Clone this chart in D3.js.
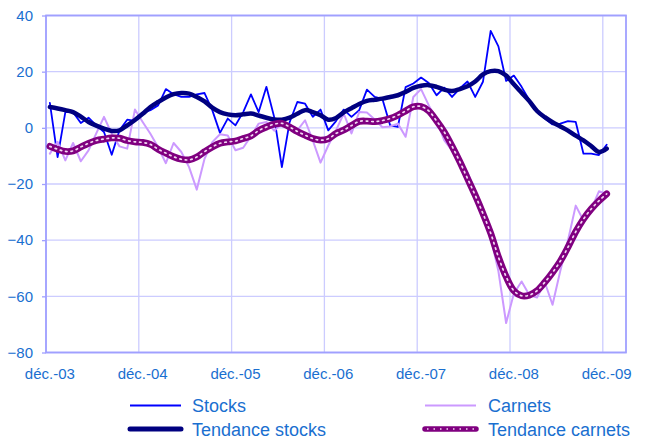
<!DOCTYPE html>
<html>
<head>
<meta charset="utf-8">
<script src="https://d3js.org/d3.v7.min.js"></script>
<style>
body { margin: 0; background: #fff; }
text { font-family: "Liberation Sans", Arial, sans-serif; }
</style>
</head>
<body>
<div id="chart"></div>
<script>
var width = 648;
var height = 441;

// tick labels (one every 12 months) and number of monthly slots on the axis
var tickLabels = ["déc.-03", "déc.-04", "déc.-05", "déc.-06", "déc.-07", "déc.-08", "déc.-09"];
var nSlots = 75;
var yTicks = [-80, -60, -40, -20, 0, 20, 40];

// monthly values, déc.-03 .. déc.-09
var stocks = [8.9, -10.4, 5.6, 5.6, 1.7, 3.6, 0.9, -1.5, -9.6, -0.9, 2.9, 2.5,
  5.3, 6.3, 8, 13.8, 12, 11, 11, 11.9, 12.4, 6.3, -1.8, 3.3,
  0.9, 5.6, 11.9, 5.6, 14.6, 3.9, -14, 2, 9.2, 8.6, 3.9, 6.5,
  -0.9, 2.4, 6.5, 3.9, 6.3, 13.6, 11, 10.3, 0.9, 0.3, 14.5, 15.8,
  17.9, 16, 11.6, 14.3, 11, 14, 16.5, 11, 16.4, 34.5, 29, 16.7,
  18.6, 14.6, 9.8, 5.6, 3.3, 1.2, 1.5, 2.4, 2.1, -9.2, -9.2, -9.7, -6];

var carnets = [-9.2, -5, -11.6, -5.4, -11.9, -8, -2, 3.9, -2.1, -6.6, -7.4, 6.5,
  2.1, -2.1, -6.9, -12.6, -5.4, -8.6, -14, -22, -11, -5.1, -2.3, -2.7,
  -8, -7.1, -3, 1.5, 2.1, -1, 1.5, -0.5, -0.9, 2.7, -4.5, -12.4,
  -6.3, -0.9, 5.1, -2, 5.6, 5.5, 3, 0.2, 0.5, 1.5, -3.2, 11,
  13.8, 8, 2.7, -4.5, -8, -11.5, -15.8, -22.5, -30, -39, -51, -69.5,
  -59, -54.7, -59.5, -60.4, -55, -63, -51, -40, -27.7, -33, -29, -22.6, -23.5];

var trendStocks = [7.4, 6.9, 6.3, 5.6, 4.0, 2.1, 0.8, -0.3, -1.1, -0.9, 0.9, 2.8,
  5.0, 7.4, 9.2, 10.8, 12.0, 12.4, 12.2, 11.0, 9.4, 7.2, 5.6, 4.8,
  4.5, 4.8, 5.1, 4.4, 3.6, 3.0, 2.9, 3.6, 5.0, 6.3, 5.6, 4.5,
  2.9, 3.5, 5.5, 7.0, 8.5, 9.6, 10.0, 10.4, 11.0, 11.6, 12.8, 14.2,
  15.0, 15.2, 14.6, 13.6, 13.1, 13.8, 14.8, 16.5, 19.0, 20.2, 20.2, 18.6,
  15.5, 12.5, 9.5, 6.0, 3.8, 2.0, 0.5, -1.0, -2.8, -4.5, -6.5, -8.6, -7.4];

var trendCarnets = [-6.6, -7.6, -8.4, -8.2, -6.8, -5.5, -4.5, -4.0, -3.6, -3.7, -4.5, -5.0,
  -5.2, -5.9, -7.6, -9.0, -10.3, -11.2, -11.4, -10.4, -8.5, -6.8, -5.5, -5.0,
  -4.7, -3.8, -2.9, -1.0, 0.3, 1.3, 1.6, 0.3, -1.3, -2.6, -3.8, -4.4,
  -3.9, -2.0, -0.8, 0.8, 2.3, 2.4, 2.2, 2.6, 3.3, 4.5, 6.0, 7.5,
  7.6, 6.0, 2.5, -1.5, -6.5, -12, -18, -24, -30.5, -37.5, -46, -53,
  -58, -59.8, -59.6, -58, -55, -51.5, -47.5, -42.5, -37, -32.5, -28.9, -26, -23.5];

var series = [
  {name: "Stocks", values: stocks, color: "#0000ff", w: 1.8},
  {name: "Carnets", values: carnets, color: "#cc99ff", w: 2},
  {name: "Tendance stocks", values: trendStocks, color: "#000080", w: 4.5},
  {name: "Tendance carnets", values: trendCarnets, color: "#800080", w: 6.8, dots: true}
];

var plot = {left: 46, right: 626, top: 15.5, bottom: 352.5};

var svg = d3.select("#chart").append("svg").attr("width", width).attr("height", height);

var x = d3.scaleLinear().domain([0, nSlots]).range([plot.left, plot.right]);
var y = d3.scaleLinear().domain([-80, 40]).range([plot.bottom, plot.top]);

// grid
svg.append("g").selectAll("line").data(yTicks).enter().append("line")
  .attr("x1", plot.left).attr("x2", plot.right)
  .attr("y1", function(d) { return y(d); }).attr("y2", function(d) { return y(d); })
  .attr("stroke", "#ccccff").attr("stroke-width", 1.3);

svg.append("g").selectAll("line").data(tickLabels).enter().append("line")
  .attr("x1", function(d, i) { return x(i * 12); }).attr("x2", function(d, i) { return x(i * 12); })
  .attr("y1", plot.top).attr("y2", plot.bottom)
  .attr("stroke", "#ccccff").attr("stroke-width", 1.3);

// plot border
svg.append("rect")
  .attr("x", plot.left).attr("y", plot.top)
  .attr("width", plot.right - plot.left).attr("height", plot.bottom - plot.top)
  .attr("fill", "none").attr("stroke", "#a0a0ff").attr("stroke-width", 1.8);

// y axis
var yAxis = d3.axisLeft(y).tickValues(yTicks).tickSize(4).tickPadding(9);
var gy = svg.append("g").attr("transform", "translate(" + plot.left + ",0)").call(yAxis);
gy.select(".domain").remove();
gy.selectAll("line").attr("stroke", "#a0a0ff").attr("stroke-width", 1.3);
gy.selectAll("text").attr("fill", "#1a6fd0").style("font-size", "15px")
  .style("font-family", "'Liberation Sans', Arial, sans-serif");

// x labels
svg.append("g").selectAll("text").data(tickLabels).enter().append("text")
  .attr("x", function(d, i) { return x(i * 12 + 0.5); })
  .attr("y", 379)
  .attr("text-anchor", "middle")
  .attr("fill", "#1a6fd0")
  .style("font-size", "15px")
  .text(function(d) { return d; });

// lines
var line = d3.line()
  .x(function(d, i) { return x(i + 0.5); })
  .y(function(d) { return y(d); });
var smooth = d3.line()
  .x(function(d, i) { return x(i + 0.5); })
  .y(function(d) { return y(d); })
  .curve(d3.curveCatmullRom);

series.forEach(function(s) {
  var gen = s.name.indexOf("Tendance") == 0 ? smooth : line;
  svg.append("path").datum(s.values)
    .attr("d", gen)
    .attr("fill", "none")
    .attr("stroke", s.color)
    .attr("stroke-width", s.w)
    .attr("stroke-linejoin", "round")
    .attr("stroke-linecap", "round");
  if (s.dots) {
    svg.append("path").datum(s.values)
      .attr("d", gen)
      .attr("fill", "none")
      .attr("stroke", "#f2d9f2")
      .attr("stroke-width", 1.7)
      .attr("stroke-dasharray", "1.5,4")
      .attr("stroke-linecap", "round");
  }
});

// legend
var legendPos = [
  {x: 130, y: 405.5, tx: 192},
  {x: 425, y: 405.5, tx: 488},
  {x: 130, y: 429, tx: 192},
  {x: 425, y: 429, tx: 488}
];
series.forEach(function(s, i) {
  var p = legendPos[i];
  svg.append("line")
    .attr("x1", p.x).attr("x2", p.x + 51).attr("y1", p.y).attr("y2", p.y)
    .attr("stroke", s.color).attr("stroke-width", s.dots ? 5.5 : (s.w > 3 ? 5 : 2))
    .attr("stroke-linecap", s.w > 3 ? "round" : "butt");
  if (s.dots) {
    svg.append("line")
      .attr("x1", p.x + 2).attr("x2", p.x + 51).attr("y1", p.y).attr("y2", p.y)
      .attr("stroke", "#f2d9f2").attr("stroke-width", 1.5)
      .attr("stroke-dasharray", "1.5,5");
  }
  svg.append("text")
    .attr("x", p.tx).attr("y", p.y + 6.5)
    .attr("fill", "#1a6fd0")
    .style("font-size", "18px")
    .text(s.name);
});
</script>
</body>
</html>
